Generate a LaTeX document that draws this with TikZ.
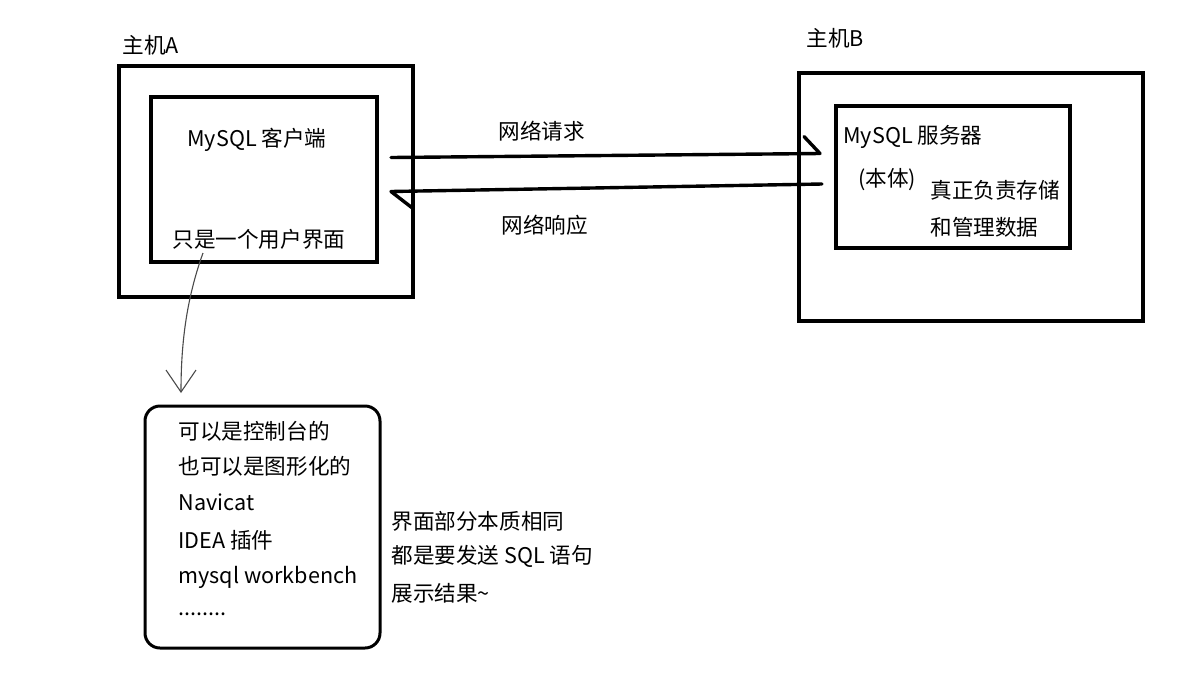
\documentclass[tikz,border=0pt]{standalone}
\usepackage{fontspec}
\setmainfont{Noto Sans CJK SC}
\usetikzlibrary{arrows.meta,positioning,calc}
\definecolor{Ink}{HTML}{000000}
\definecolor{Pencil}{HTML}{4A4A4A}
\definecolor{Paper}{HTML}{FFFFFF}

\begin{document}
\begin{tikzpicture}[x=0.5pt,y=-0.5pt,font=\fontsize{10.8}{13}\selectfont,text=Ink,hostbox/.style={draw=Ink,line width=2pt,inner sep=0pt},listbox/.style={draw=Ink,line width=1.5pt,rounded corners=7.5pt,inner sep=0pt},label/.style={anchor=west,inner sep=0pt},netline/.style={draw=Ink,line width=1.7pt,line join=round,line cap=round},sketch/.style={draw=Pencil,line width=0.55pt,-{Straight Barb[length=11pt,width=15pt,line width=0.55pt]}}]
\fill[Paper] (0,0) rectangle (1178,698);
\useasboundingbox (0,0) rectangle (1178,698);
% host A
\node[label] (hostAlabel) at (122,45){主机A};
\node[hostbox,minimum width=147pt,minimum height=115.5pt] (hostA) at (266,181.5){};
\node[hostbox,minimum width=113pt,minimum height=82.5pt] (client) at (264,179.5){};
\node[label] (clientname) at (187,140){MySQL 客户端};
\node[label] (uitext) at (172,239){只是一个用户界面};
% host B
\node[label] (hostBlabel) at (806,38){主机B};
\node[hostbox,minimum width=172pt,minimum height=124pt] (hostB) at (971,197){};
\node[hostbox,minimum width=117pt,minimum height=71pt] (server) at (953,177){};
\node[label] (servername) at (843,137){MySQL 服务器};
\node[label] (body) at (858,180){(本体)};
\node[label] (duty) at (930,190){真正负责存储};
\node[label] (duty2) at (930,227){和管理数据};
% network
\coordinate (reqS) at (391,157.5);\coordinate (reqE) at (820,153.5);
\coordinate (respS) at (822,184);\coordinate (respE) at (391,191.5);
\draw[netline] (reqS) -- (reqE) -- ++(-16,-17);
\draw[netline] (respS) -- (respE) -- ++(22,17);
\node[label] (reqlabel) at (498,131){网络请求};
\node[label] (resplabel) at (501,225){网络响应};
% client tools
\coordinate (curveS) at (203,253);\coordinate (curveE) at (181,393);
\draw[sketch] (curveS) .. controls (186,300) and (181,345) .. (curveE);
\node[listbox,minimum width=117.5pt,minimum height=121pt] (tools) at (262.5,527){};
\node[label] (t1) at (178,431){可以是控制台的};
\node[label] (t2) at (178,466){也可以是图形化的};
\node[label] (t3) at (178,502){Navicat};
\node[label] (t4) at (178,540){IDEA 插件};
\node[label] (t5) at (178,577){mysql workbench};
\node[label] (t6) at (178,614){........};
\node[label] (same1) at (391,521){界面部分本质相同};
\node[label] (same2) at (391,556){都是要发送 SQL 语句};
\node[label] (same3) at (391,593){展示结果\textasciitilde};
\end{tikzpicture}
\end{document}
